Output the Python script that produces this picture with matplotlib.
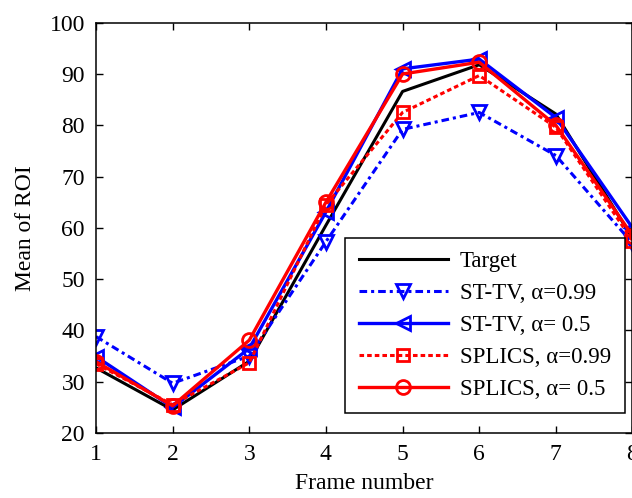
import matplotlib
matplotlib.use('Agg')
from matplotlib import pyplot as plt

# values
frames = [1, 2, 3, 4, 5, 6, 7, 8]
target = [32.7, 24.5, 34.0, 60.5, 86.6, 91.8, 82.2, 58.0]
sttv_099 = [38.8, 29.7, 35.0, 57.3, 79.2, 82.5, 74.1, 57.0]
sttv_05 = [34.9, 25.0, 36.5, 63.1, 91.0, 92.9, 81.5, 60.0]
splics_099 = [33.5, 25.5, 33.7, 64.5, 82.5, 89.7, 79.6, 57.5]
splics_05 = [33.9, 25.3, 38.1, 65.0, 90.0, 92.3, 80.0, 58.5]

labels = ['Target', 'ST-TV, \u03b1=0.99', 'ST-TV, \u03b1= 0.5',
          'SPLICS, \u03b1=0.99', 'SPLICS, \u03b1= 0.5']
y_ticks = [20, 30, 40, 50, 60, 70, 80, 90, 100]

plt.rcParams['font.family'] = ['Liberation Serif', 'DejaVu Serif']

fig = plt.figure(figsize=(6.32, 4.98), dpi=100)
ax = fig.add_axes([96 / 632, 65 / 498, 536.5 / 632, 410.3 / 498])

ax.plot(frames, target, color='black', linewidth=2.2, label=labels[0])
ax.plot(frames, sttv_099, color='#0000ff', linewidth=2.2, linestyle=(0, (2.5, 1.3, 1, 1.3)),
        marker='v', markersize=10, markerfacecolor='none', markeredgewidth=2, label=labels[1])
ax.plot(frames, sttv_05, color='#0000ff', linewidth=2.4, linestyle='-',
        marker='<', markersize=10, markerfacecolor='none', markeredgewidth=2, label=labels[2])
ax.plot(frames, splics_099, color='#ff0000', linewidth=2.2, linestyle=(0, (1.5, 1)),
        marker='s', markersize=8, markerfacecolor='none', markeredgewidth=2, label=labels[3])
ax.plot(frames, splics_05, color='#ff0000', linewidth=2.4, linestyle='-',
        marker='o', markersize=10, markerfacecolor='none', markeredgewidth=2, label=labels[4])

ax.set_xlim(1, 8)
ax.set_ylim(20, 100)
ax.set_xticks(frames)
ax.set_yticks(y_ticks)
ax.tick_params(direction='in', top=True, right=True, length=5, width=1, labelsize=17, pad=8)
for s in ax.spines.values():
    s.set_linewidth(1.1)

ax.set_xlabel('Frame number', fontsize=17, labelpad=6)
ax.set_ylabel('Mean of ROI', fontsize=17, labelpad=10)

leg = ax.legend(loc='upper left', bbox_to_anchor=(345 / 632, 1 - 237.7 / 498),
                bbox_transform=fig.transFigure, fontsize=16.5, handlelength=3.9,
                labelspacing=0.47, borderpad=0.6, handletextpad=0.5, borderaxespad=0,
                fancybox=False, framealpha=1, edgecolor='black')
leg.get_frame().set_linewidth(1.1)

fig.savefig('out.png', dpi=100)
